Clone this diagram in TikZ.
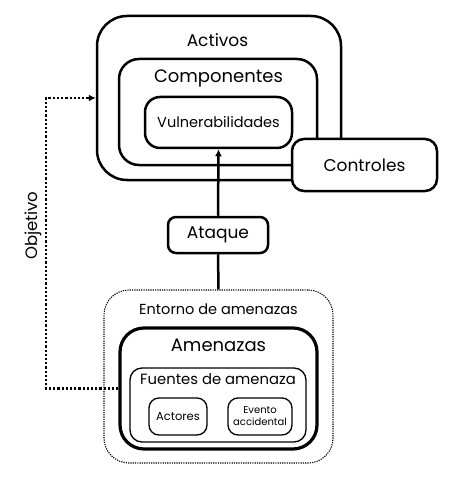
\documentclass[tikz,border=0pt]{standalone}
\usepackage{fontspec}
\setmainfont{Poppins}
\usetikzlibrary{arrows.meta,positioning}

\begin{document}
\begin{tikzpicture}[
  x=1pt, y=-1pt,
  box/.style={draw, line width=2.5pt, fill=white, inner sep=0pt},
  thinbox/.style={draw, line width=1.3pt, fill=white, inner sep=0pt, align=center},
  zone/.style={draw, line width=1.1pt, dash pattern=on 1.2pt off 1.1pt, rounded corners=25pt},
  title/.style={inner sep=0pt, anchor=north},
  arrow/.style={-{Latex[length=7pt,width=7pt]}, line width=2.5pt},
  dotarrow/.style={-{Latex[length=7pt,width=7pt]}, line width=2.6pt, dash pattern=on 2.2pt off 2pt}
]
\useasboundingbox (0,0) rectangle (453,481);

% activos side
\node[box, rounded corners=30pt, minimum width=244pt, minimum height=164pt] (activos) at (219,98) {};
\node[title, font=\fontsize{17}{19}\selectfont] (activostitle) at (217.5,33) {Activos};
\node[box, rounded corners=20pt, minimum width=198pt, minimum height=106pt] (componentes) at (218,112) {};
\node[title, font=\fontsize{18}{20}\selectfont] (comptitle) at (218.5,70) {Componentes};
\node[box, rounded corners=15pt, minimum width=147pt, minimum height=51pt, font=\fontsize{14.5}{16}\selectfont] (vuln) at (218.5,122.5) {Vulnerabilidades};
\node[box, rounded corners=12pt, minimum width=145pt, minimum height=52pt, font=\fontsize{17}{19}\selectfont] (controles) at (364.5,165) {Controles};

% ataque
\node[box, rounded corners=8pt, minimum width=100pt, minimum height=36pt, font=\fontsize{17}{19}\selectfont] (ataque) at (218,235) {Ataque};

% amenazas side
\node[zone, minimum width=229pt, minimum height=173pt] (entorno) at (218.5,376.5) {};
\node[title, font=\fontsize{14.5}{16}\selectfont] (entornotitle) at (218.5,304) {Entorno de amenazas};
\node[box, line width=3.2pt, rounded corners=24pt, minimum width=197pt, minimum height=121pt] (amenazas) at (218.5,388.5) {};
\node[title, font=\fontsize{18}{20}\selectfont] (amentitle) at (218.5,339) {Amenazas};
\node[thinbox, rounded corners=12pt, minimum width=176pt, minimum height=74pt] (fuentes) at (218,405) {};
\node[title, font=\fontsize{14.8}{17}\selectfont] (fuentestitle) at (218,373) {Fuentes de amenaza};
\node[thinbox, rounded corners=10pt, minimum width=58pt, minimum height=37pt, font=\fontsize{11.5}{13}\selectfont] (actores) at (178,416.5) {Actores};
\node[thinbox, rounded corners=10pt, minimum width=64pt, minimum height=37pt, font=\fontsize{10}{12}\selectfont] (evento) at (260,416.5) {Evento\\accidental};

% connectors
\draw[arrow] (ataque.north) -- (vuln.south);
\draw[line width=2.5pt] (entorno.north) -- (ataque.south);
\coordinate (bend) at (46,98);
\draw[dotarrow] (amenazas.west) -| node[pos=0.77, above=6pt, rotate=90, font=\fontsize{16.5}{18}\selectfont] {Objetivo} (bend) -- (activos.west);
\end{tikzpicture}
\end{document}
